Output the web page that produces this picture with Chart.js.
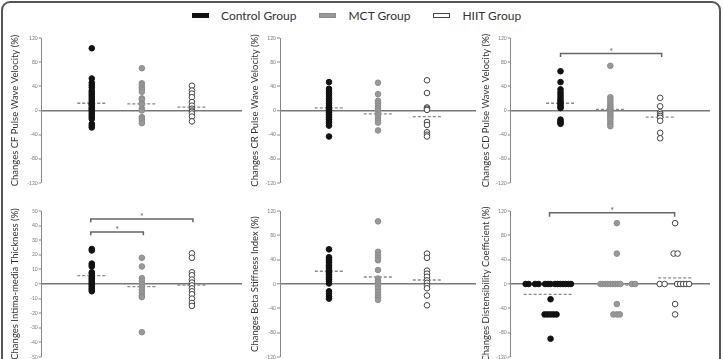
<!DOCTYPE html>
<html>
<head>
<meta charset="utf-8">
<script src="https://cdn.jsdelivr.net/npm/chart.js@4.4.0/dist/chart.umd.min.js"></script>
<style>
  body { margin: 0; width: 723px; height: 359px; overflow: hidden; background: #fff; font-family: Lato, sans-serif; }
  #frame { position: absolute; left: 1px; top: 1px; width: 716px; height: 380px; border: 2px solid #555; border-radius: 9px; }
  #legend { position: absolute; top: 6px; left: 192px; display: flex; align-items: center; height: 18px; font-size: 12px; color: #333; }
  .item { display: flex; align-items: center; margin-right: 23px; }
  .swatch { width: 17px; height: 5px; margin-right: 12px; box-sizing: border-box; }
  .panel { position: absolute; }
</style>
</head>
<body>
<div id="frame"></div>
<div id="legend"></div>
<script>
const groups = ['Control Group', 'MCT Group', 'HIIT Group'];
const groupX = [1, 2, 3];

const pwvTicks = [-120, -80, -40, 0, 40, 80, 120];
const imtTicks = [-50, -40, -30, -20, -10, 0, 10, 20, 30, 40, 50];

// CF pulse wave velocity
const cfControl = [103, 53, 46, 42, 38, 33, 30, 27, 24, 21, 18, 15, 12, 10, 8, 5, 3, 1, -2, -5, -8, -11, -14, -22, -25, -28];
const cfMct = [70, 45, 42, 38, 35, 31, 20, 18, 12, 10, 3, 0, -11, -14, -17, -21];
const cfHiit = [41, 33, 28, 22, 14, 8, 3, 0, -2, -5, -10, -18];
const cfMeans = [12, 11, 5.5];

// CR pulse wave velocity
const crControl = [47, 36, 32, 28, 24, 20, 16, 12, 8, 5, 2, 0, -3, -6, -9, -12, -15, -18, -21, -25, -43];
const crMct = [46, 27, 16, 12, 8, 4, 0, -4, -8, -12, -16, -20, -33];
const crHiit = [50, 29, 5, 3, 1, -19, -24, -36, -40, -43];
const crMeans = [4.5, -5.5, -10];

// CD pulse wave velocity
const cdControl = [65, 47, 35, 30, 26, 22, 18, 15, 12, 9, 6, 4, -15, -18, -20, -22];
const cdMct = [74, 22, 18, 14, 10, 7, 4, 1, -2, -5, -8, -11, -14, -18, -22, -26];
const cdHiit = [21, 7, -3, -6, -9, -12, -17, -37, -46];
const cdMeans = [12, 1.7, -11];

// intima-media thickness
const imtControl = [24, 23, 14, 13, 12, 8, 7, 5, 4, 3, 2, 1, 0, -1, -2, -3, -4, -5];
const imtMct = [18, 12, 4, 2, 0, -2, -4, -6, -8, -9, -33];
const imtHiit = [21, 18, 8, 6, 3, 1, -1, -3, -5, -7, -10, -13, -15];
const imtMeans = [5.7, -1.8, -0.7];

// beta stiffness index
const bsControl = [57, 44, 41, 38, 35, 31, 28, 25, 22, 19, 16, 13, 10, 7, 4, 1, -12, -16, -20, -24];
const bsMct = [103, 53, 48, 43, 39, 23, 9, 6, 3, 0, -4, -8, -13, -18, -22, -26];
const bsHiit = [50, 43, 22, 17, 12, 6, 2, -3, -7, -19, -35];
const bsMeans = [21, 11.5, 6.6];

// distensibility coefficient (points spread sideways)
const dcControl = [0, 0, 0, 0, 0, 0, 0, 0, 0, 0, 0, 0, 0, 0, -25, -50, -50, -50, -50, -50, -90];
const dcControlX = [0.30, 0.36, 0.49, 0.56, 0.69, 0.75, 0.80, 0.89, 0.94, 1.0, 1.05, 1.10, 1.16, 1.21, 0.80, 0.68, 0.74, 0.80, 0.86, 0.92, 0.80];
const dcMct = [100, 50, 0, 0, 0, 0, 0, 0, 0, 0, 0, 0, 0, -33, -50, -50, -50];
const dcMctX = [2.13, 2.13, 1.80, 1.85, 1.90, 1.95, 2.00, 2.05, 2.10, 2.15, 2.20, 2.43, 2.50, 2.13, 2.06, 2.13, 2.19];
const dcHiit = [100, 50, 50, 0, 0, 0, 0, 0, 0, 0, -33, -50];
const dcHiitX = [3.30, 3.27, 3.35, 2.99, 3.09, 3.34, 3.40, 3.46, 3.52, 3.58, 3.30, 3.30];
const dcMeans = [-17, -2, 10];
const dcMeanFrom = [0.26, 1.80, 2.96];
const dcMeanTo = [1.25, 2.50, 3.65];

const styles = [
  { bg: '#111', border: '#111' },
  { bg: '#999', border: '#8c8c8c' },
  { bg: '#fff', border: '#444' }
];

const panels = [
  { title: 'Changes CF Pulse Wave Velocity (%)', series: [cfControl, cfMct, cfHiit], means: cfMeans, ticks: pwvTicks, col: 0, row: 0, brackets: [] },
  { title: 'Changes CR Pulse Wave Velocity (%)', series: [crControl, crMct, crHiit], means: crMeans, ticks: pwvTicks, col: 1, row: 0, brackets: [] },
  { title: 'Changes CD Pulse Wave Velocity (%)', series: [cdControl, cdMct, cdHiit], means: cdMeans, ticks: pwvTicks, col: 2, row: 0,
    brackets: [{ from: 1, to: 3.03, y: 94.5, drop: 6, star: 100 }] },
  { title: 'Changes Intima-media Thickness (%)', series: [imtControl, imtMct, imtHiit], means: imtMeans, ticks: imtTicks, col: 0, row: 1,
    brackets: [{ from: 0.98, to: 3.02, y: 44.6, drop: 2.3, star: 47.5 }, { from: 0.98, to: 2.03, y: 35.7, drop: 2.3, star: 38.5 }] },
  { title: 'Changes Beta Stiffness Index (%)', series: [bsControl, bsMct, bsHiit], means: bsMeans, ticks: pwvTicks, col: 1, row: 1, brackets: [] },
  { title: 'Changes Distensibility Coefficient (%)', series: [dcControl, dcMct, dcHiit], xs: [dcControlX, dcMctX, dcHiitX],
    means: dcMeans, meanFrom: dcMeanFrom, meanTo: dcMeanTo, ticks: pwvTicks, col: 2, row: 1,
    brackets: [{ from: 0.78, to: 3.29, y: 117, drop: 6.5, star: 123 }] }
];

// layout of the grid of panels
const cols = [
  { left: 4, axis: 41.7, right: 247, titlePad: 5.3 },
  { left: 242, axis: 280, right: 481, titlePad: 7.3 },
  { left: 476, axis: 510.7, right: 715, titlePad: 4.3 }
];
const rows = [{ top: 37.7, bottom: 182.3 }, { top: 211, bottom: 356.5 }];
const pad = 6;

// legend
const legend = document.getElementById('legend');
groups.forEach((g, i) => {
  const item = document.createElement('div');
  item.className = 'item';
  const sw = document.createElement('div');
  sw.className = 'swatch';
  sw.style.background = styles[i].bg;
  sw.style.border = '1px solid ' + styles[i].border;
  const label = document.createElement('span');
  label.textContent = g;
  item.appendChild(sw);
  item.appendChild(label);
  legend.appendChild(item);
});

const bracketPlugin = {
  id: 'brackets',
  afterDatasetsDraw(chart, args, opts) {
    const list = opts.list || [];
    const ctx = chart.ctx;
    const xs = chart.scales.x, ys = chart.scales.y;
    ctx.save();
    ctx.strokeStyle = '#666';
    ctx.fillStyle = '#666';
    ctx.lineWidth = 1.5;
    list.forEach(b => {
      const x1 = xs.getPixelForValue(b.from), x2 = xs.getPixelForValue(b.to);
      const y = ys.getPixelForValue(b.y), yd = ys.getPixelForValue(b.y - b.drop);
      ctx.beginPath();
      ctx.moveTo(x1, yd);
      ctx.lineTo(x1, y);
      ctx.lineTo(x2, y);
      ctx.lineTo(x2, yd);
      ctx.stroke();
      ctx.font = '9px Lato';
      ctx.textAlign = 'center';
      ctx.textBaseline = 'middle';
      ctx.fillText('*', (x1 + x2) / 2, ys.getPixelForValue(b.star) + 2);
    });
    ctx.restore();
  }
};

panels.forEach(p => {
  const c = cols[p.col], r = rows[p.row];
  const div = document.createElement('div');
  div.className = 'panel';
  const w = Math.round(c.right - c.left);
  const h = Math.round(r.bottom - r.top + 2 * pad);
  div.style.left = c.left + 'px';
  div.style.top = (r.top - pad) + 'px';
  const canvas = document.createElement('canvas');
  canvas.width = w;
  canvas.height = h;
  div.appendChild(canvas);
  document.body.appendChild(div);

  const datasets = [];
  p.series.forEach((vals, i) => {
    const xArr = p.xs ? p.xs[i] : null;
    datasets.push({
      data: vals.map((v, k) => ({ x: xArr ? xArr[k] : groupX[i], y: v })),
      backgroundColor: styles[i].bg,
      borderColor: styles[i].border,
      borderWidth: 1,
      pointRadius: 2.8,
      order: 0
    });
  });
  p.means.forEach((m, i) => {
    const from = p.meanFrom ? p.meanFrom[i] : groupX[i] - 0.29;
    const to = p.meanTo ? p.meanTo[i] : groupX[i] + 0.29;
    datasets.push({
      data: [{ x: from, y: m }, { x: to, y: m }],
      showLine: true,
      borderColor: '#8a8a8a',
      borderWidth: 1.3,
      borderDash: [3, 2],
      pointRadius: 0,
      order: 1
    });
  });

  const t = p.ticks;
  new Chart(canvas, {
    type: 'scatter',
    data: { datasets },
    plugins: [bracketPlugin],
    options: {
      responsive: false,
      animation: false,
      devicePixelRatio: 1,
      layout: { padding: { top: pad, bottom: pad, left: 0, right: 2 } },
      plugins: {
        legend: { display: false },
        tooltip: { enabled: false },
        brackets: { list: p.brackets }
      },
      scales: {
        x: { type: 'linear', min: 0, max: 4, display: false },
        y: {
          min: t[0],
          max: t[t.length - 1],
          afterFit: s => { s.width = c.axis - c.left; },
          afterBuildTicks: s => { s.ticks = t.map(v => ({ value: v })); },
          ticks: { font: { size: 5, family: 'Lato' }, color: '#777', padding: 1 },
          grid: {
            color: ctx => ctx.tick && ctx.tick.value === 0 ? '#777' : 'rgba(0,0,0,0)',
            lineWidth: ctx => ctx.tick && ctx.tick.value === 0 ? 1.5 : 0,
            tickColor: '#888',
            tickWidth: 1,
            tickLength: 3
          },
          border: { color: '#888', width: 1 },
          title: { display: true, text: p.title, color: '#333', font: { size: 9.5, family: 'Lato' }, padding: { top: c.titlePad, bottom: 0 } }
        }
      }
    }
  });
});
</script>
</body>
</html>
